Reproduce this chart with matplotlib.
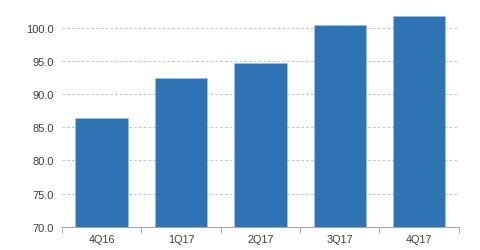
import matplotlib
matplotlib.use("agg")
import matplotlib.pyplot as plt
import numpy as np

quarters = ["4Q16", "1Q17", "2Q17", "3Q17", "4Q17"]
values = [86.4, 92.5, 94.8, 100.4, 101.9]
y_ticks = [70, 75, 80, 85, 90, 95, 100]

plt.rcParams["font.family"] = ["Liberation Sans", "DejaVu Sans"]

fig = plt.figure(figsize=(4.8, 2.51), dpi=100)
ax = fig.add_axes([0.129, 0.093, 0.827, 0.907])

x = np.arange(len(quarters))
ax.bar(x, values, width=0.66, color="#2e74b5", edgecolor="#9dc3e6", linewidth=0.4, zorder=3)

ax.set_xlim(-0.5, len(quarters) - 0.5)
ax.set_ylim(70, 104.4)
ax.set_yticks(y_ticks)
ax.set_yticklabels([f"{v:.1f}" for v in y_ticks])
ax.set_xticks(x)
ax.set_xticklabels(quarters)
ax.set_xticks(np.arange(-0.5, len(quarters)), minor=True)

# dashed horizontal grid
ax.grid(axis="y", linestyle=(0, (2.5, 1.8)), color="#c8c8c8", linewidth=0.8, zorder=0)
for s in ["left", "right", "top"]:
    ax.spines[s].set_visible(False)
ax.spines["bottom"].set_color("#a6a6a6")

ax.tick_params(axis="y", length=0, pad=6, labelsize=8, labelcolor="#404040")
ax.tick_params(axis="x", which="major", length=0, pad=5, labelsize=7.8, labelcolor="#404040")
ax.tick_params(axis="x", which="minor", length=4, color="#a6a6a6")

fig.savefig("out.png", dpi=100)
